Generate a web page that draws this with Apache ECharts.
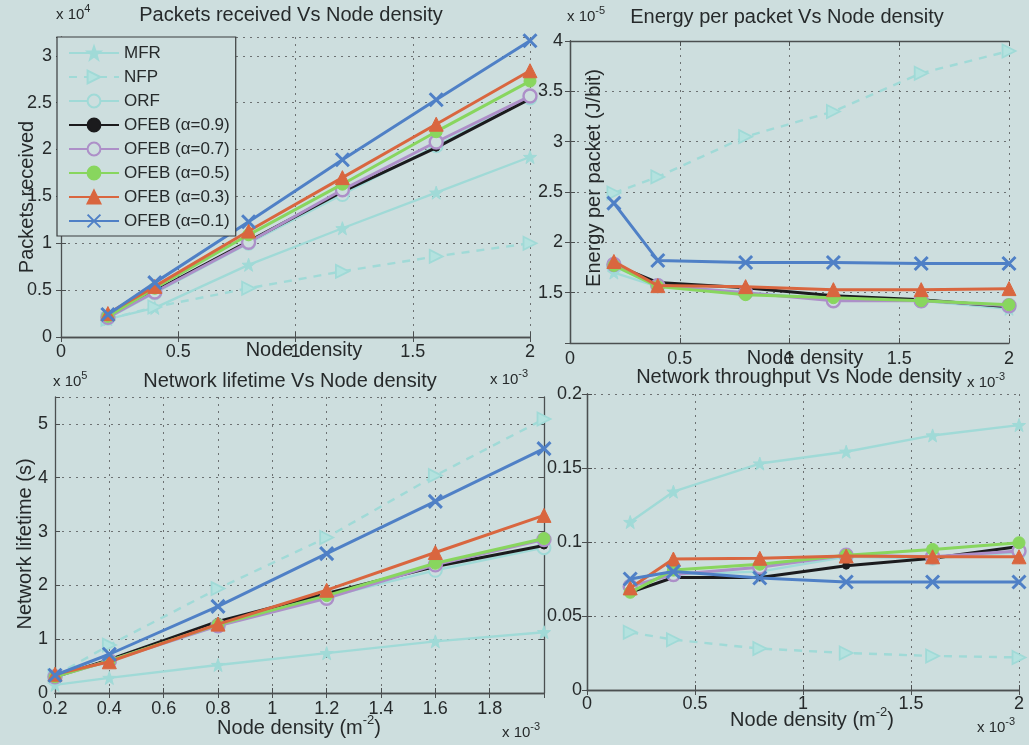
<!DOCTYPE html>
<html>
<head>
<meta charset="utf-8">
<script src="https://cdn.jsdelivr.net/npm/echarts@6/dist/echarts.min.js"></script>
<style>
  html, body { margin: 0; padding: 0; background: #cddede; }
  #chart { width: 1029px; height: 745px; }
</style>
</head>
<body>
<div id="chart"></div>
<script>
// Node density values (x 10^-3 m^-2) shared by all four panels
const densityX = [0.2, 0.4, 0.8, 1.2, 1.6, 2.0];

const seriesNames = ['MFR', 'NFP', 'ORF', 'OFEB (α=0.9)', 'OFEB (α=0.7)', 'OFEB (α=0.5)', 'OFEB (α=0.3)', 'OFEB (α=0.1)'];

// Packets received (x 10^4), one row per scheme in seriesNames order
const packetsReceived = [
  [0.19, 0.31, 0.77, 1.16, 1.54, 1.92],
  [0.19, 0.32, 0.52, 0.70, 0.86, 1.00],
  [0.20, 0.47, 1.00, 1.52, 2.04, 2.55],
  [0.22, 0.49, 1.02, 1.55, 2.02, 2.54],
  [0.21, 0.48, 1.01, 1.57, 2.08, 2.57],
  [0.22, 0.52, 1.09, 1.63, 2.19, 2.73],
  [0.25, 0.54, 1.13, 1.70, 2.27, 2.84],
  [0.24, 0.58, 1.23, 1.89, 2.53, 3.16]
];

// Energy per packet (x 10^-5 J/bit)
const energyPerPacket = [
  [1.70, 1.56, 1.50, 1.44, 1.42, 1.34],
  [2.49, 2.65, 3.05, 3.30, 3.68, 3.90],
  [1.76, 1.57, 1.50, 1.43, 1.42, 1.36],
  [1.78, 1.60, 1.55, 1.47, 1.43, 1.36],
  [1.78, 1.57, 1.50, 1.42, 1.42, 1.37],
  [1.77, 1.56, 1.48, 1.45, 1.42, 1.38],
  [1.81, 1.57, 1.56, 1.53, 1.53, 1.54],
  [2.39, 1.82, 1.80, 1.80, 1.79, 1.79]
];

// Network lifetime (x 10^5 s)
const networkLifetime = [
  [0.15, 0.28, 0.52, 0.74, 0.96, 1.13],
  [0.32, 0.89, 1.94, 2.89, 4.04, 5.09],
  [0.30, 0.60, 1.25, 1.78, 2.28, 2.70],
  [0.30, 0.62, 1.33, 1.85, 2.35, 2.74],
  [0.30, 0.60, 1.25, 1.76, 2.38, 2.85],
  [0.30, 0.60, 1.27, 1.81, 2.41, 2.87],
  [0.35, 0.58, 1.28, 1.91, 2.61, 3.30],
  [0.33, 0.72, 1.61, 2.59, 3.56, 4.54]
];

// Network throughput
const networkThroughput = [
  [0.1135, 0.134, 0.153, 0.161, 0.172, 0.179],
  [0.039, 0.034, 0.028, 0.025, 0.023, 0.022],
  [0.070, 0.078, 0.080, 0.090, 0.089, 0.093],
  [0.066, 0.076, 0.076, 0.084, 0.089, 0.097],
  [0.070, 0.078, 0.083, 0.091, 0.090, 0.094],
  [0.066, 0.081, 0.085, 0.091, 0.095, 0.0995],
  [0.069, 0.0885, 0.089, 0.0905, 0.090, 0.090],
  [0.075, 0.080, 0.0757, 0.073, 0.073, 0.073]
];

// Tick labels for each axis
const ticksX0to2 = ['0', '0.5', '1', '1.5', '2'];
const ticksX02to18 = ['0.2', '0.4', '0.6', '0.8', '1', '1.2', '1.4', '1.6', '1.8'];
const ticksPackets = ['0', '0.5', '1', '1.5', '2', '2.5', '3'];
const ticksEnergy = ['1.5', '2', '2.5', '3', '3.5', '4'];
const ticksLifetime = ['0', '1', '2', '3', '4', '5'];
const ticksThroughput = ['0', '0.05', '0.1', '0.15', '0.2'];

const BG = '#cddede';
const FONT = '"Liberation Sans", Arial, Helvetica, sans-serif';
const INK = '#262a2b';

// Marker shapes
function starPath() {
  const pts = [];
  for (let i = 0; i < 10; i++) {
    const r = i % 2 === 0 ? 10 : 4;
    const a = -Math.PI / 2 + i * Math.PI / 5;
    pts.push((10 + r * Math.cos(a)).toFixed(2) + ',' + (10 + r * Math.sin(a)).toFixed(2));
  }
  return 'path://M' + pts.join('L') + 'Z';
}
const STAR = starPath();
const TRI_RIGHT = 'path://M0,0L10,5L0,10Z';
const XMARK = 'path://M0,0L10,10M10,0L0,10';

const CYAN = '#a0dad7';
const CYAN_FILL = '#b4e2df';
const seriesLook = [
  { color: CYAN, symbol: STAR, size: 13, width: 2.4, dash: 'solid', fill: CYAN, border: 1 },
  { color: CYAN, symbol: TRI_RIGHT, size: 13, width: 2.4, dash: [8, 7], fill: CYAN_FILL, border: 1.8 },
  { color: CYAN, symbol: 'circle', size: 13, width: 2.4, dash: 'solid', fill: BG, border: 2 },
  { color: '#1b1b1d', symbol: 'circle', size: 7, width: 3, dash: 'solid', fill: '#1b1b1d', border: 1 },
  { color: '#ad8fc8', symbol: 'circle', size: 13, width: 3, dash: 'solid', fill: BG, border: 2.4 },
  { color: '#88d65e', symbol: 'circle', size: 12, width: 3, dash: 'solid', fill: '#88d65e', border: 1 },
  { color: '#d9663f', symbol: 'triangle', size: 14, width: 3, dash: 'solid', fill: '#d9663f', border: 1 },
  { color: '#4f80c6', symbol: XMARK, size: 13, width: 3, dash: 'solid', fill: '#4f80c6', border: 3 }
];

function fmt(v) { return String(parseFloat(Number(v).toFixed(6))); }
function labelsFrom(list) { return function (v) { const s = fmt(v); return list.indexOf(s) >= 0 ? s : ''; }; }

const grids = [
  { left: 61, top: 37, width: 469, height: 300 },
  { left: 570, top: 41, width: 439, height: 302 },
  { left: 55, top: 397, width: 489, height: 296 },
  { left: 587, top: 394, width: 432, height: 296 }
];

const panels = [
  { data: packetsReceived, x: { min: 0, max: 2, interval: 0.5, ticks: ticksX0to2, margin: 6 }, y: { min: 0, max: 3.2, interval: 0.5, ticks: ticksPackets, margin: 9 }, rightLine: false },
  { data: energyPerPacket, x: { min: 0, max: 2, interval: 0.5, ticks: ticksX0to2, margin: 7 }, y: { min: 1, max: 4, interval: 0.5, ticks: ticksEnergy, margin: 7 }, rightLine: true },
  { data: networkLifetime, x: { min: 0.2, max: 2, interval: 0.2, ticks: ticksX02to18, margin: 7 }, y: { min: 0, max: 5.5, interval: 1, ticks: ticksLifetime, margin: 7 }, rightLine: true },
  { data: networkThroughput, x: { min: 0, max: 2, interval: 0.5, ticks: ticksX0to2, margin: 5 }, y: { min: 0, max: 0.2, interval: 0.05, ticks: ticksThroughput, margin: 5 }, rightLine: true }
];

const boxLine = { show: true, lineStyle: { color: '#4b4f50', width: 1.3 } };
const tickIn = { show: true, inside: true, length: 5, lineStyle: { color: '#4b4f50', width: 1 } };
const gridDots = { show: true, lineStyle: { color: '#6c7172', width: 1, type: [2, 5] } };
const tickText = { color: INK, fontSize: 18, fontFamily: FONT };

const xAxes = [], yAxes = [], series = [];
panels.forEach((p, gi) => {
  const xMain = xAxes.length;
  xAxes.push({
    type: 'value', gridIndex: gi, position: 'bottom', min: p.x.min, max: p.x.max, interval: p.x.interval,
    axisLine: boxLine, axisTick: tickIn, splitLine: gridDots,
    axisLabel: Object.assign({ margin: p.x.margin, formatter: labelsFrom(p.x.ticks), showMaxLabel: true, showMinLabel: true }, tickText)
  });
  xAxes.push({
    type: 'value', gridIndex: gi, position: 'top', min: p.x.min, max: p.x.max, interval: p.x.interval,
    axisLine: boxLine, axisTick: tickIn, splitLine: { show: false }, axisLabel: { show: false }
  });
  const yMain = yAxes.length;
  yAxes.push({
    type: 'value', gridIndex: gi, position: 'left', min: p.y.min, max: p.y.max, interval: p.y.interval,
    axisLine: boxLine, axisTick: tickIn, splitLine: gridDots,
    axisLabel: Object.assign({ margin: p.y.margin, formatter: labelsFrom(p.y.ticks), showMaxLabel: true, showMinLabel: true }, tickText)
  });
  yAxes.push({
    type: 'value', gridIndex: gi, position: 'right', min: p.y.min, max: p.y.max, interval: p.y.interval,
    axisLine: p.rightLine ? boxLine : { show: false }, axisTick: tickIn, splitLine: { show: false }, axisLabel: { show: false }
  });
  p.data.forEach((vals, si) => {
    const s = seriesLook[si];
    series.push({
      name: seriesNames[si], type: 'line', xAxisIndex: xMain, yAxisIndex: yMain,
      data: densityX.map((x, i) => [x, vals[i]]),
      clip: false, animation: false,
      symbol: s.symbol, symbolSize: s.size, showAllSymbol: true,
      lineStyle: { color: s.color, width: s.width, type: s.dash },
      itemStyle: { color: s.fill, borderColor: s.color, borderWidth: s.border },
      emphasis: { disabled: true },
      z: 2 + si * 0.01
    });
  });
});

const titleText = { color: INK, fontSize: 20, fontWeight: 'normal', fontFamily: FONT };
const titles = [
  { text: 'Packets received Vs Node density', x: 291, y: 17 },
  { text: 'Energy per packet Vs Node density', x: 787, y: 19 },
  { text: 'Network lifetime Vs Node density', x: 290, y: 383 },
  { text: 'Network throughput Vs Node density', x: 799, y: 379 }
];

const supRich = {
  b: { fontSize: 20, fontFamily: FONT, color: INK, lineHeight: 24, verticalAlign: 'bottom' },
  s: { fontSize: 13, fontFamily: FONT, color: INK, lineHeight: 24, verticalAlign: 'top' },
  e: { fontSize: 15, fontFamily: FONT, color: INK, lineHeight: 19, verticalAlign: 'bottom' },
  es: { fontSize: 11, fontFamily: FONT, color: INK, lineHeight: 19, verticalAlign: 'top' }
};

function label(text, x, y, rotate, align) {
  return {
    type: 'text', x: x, y: y, rotation: rotate || 0, silent: true, z: 10,
    style: { text: text, rich: supRich, align: align || 'center', verticalAlign: 'middle', fill: INK, font: '20px ' + FONT }
  };
}

const graphics = [
  // axis titles
  label('{b|Packets received}', 25, 197, Math.PI / 2),
  label('{b|Node density}', 304, 348),
  label('{b|Energy per packet (J/bit)}', 592, 178, Math.PI / 2),
  label('{b|Node density}', 805, 356),
  label('{b|Network lifetime (s)}', 23, 544, Math.PI / 2),
  label('{b|Node density (m}{s|-2}{b|)}', 299, 726),
  label('{b|Node density (m}{s|-2}{b|)}', 812, 718),
  // axis exponents
  label('{e|x 10}{es|4}', 56, 13, 0, 'left'),
  label('{e|x 10}{es|-5}', 567, 15, 0, 'left'),
  label('{e|x 10}{es|-3}', 490, 378, 0, 'left'),
  label('{e|x 10}{es|-3}', 967, 381, 0, 'left'),
  label('{e|x 10}{es|5}', 53, 380, 0, 'left'),
  label('{e|x 10}{es|-3}', 502, 731, 0, 'left'),
  label('{e|x 10}{es|-3}', 977, 726, 0, 'left')
];

const chart = echarts.init(document.getElementById('chart'), null, { renderer: 'canvas' });
chart.setOption({
  backgroundColor: BG,
  animation: false,
  textStyle: { fontFamily: FONT },
  title: titles.map(t => ({
    text: t.text, left: t.x, top: t.y - 12, textAlign: 'center', padding: 0, textStyle: titleText
  })),
  legend: {
    data: seriesNames, orient: 'vertical', left: 57, top: 37,
    padding: [7, 6, 6, 11], itemWidth: 50, itemHeight: 16, itemGap: 6,
    backgroundColor: BG, borderColor: '#3a3d3e', borderWidth: 1.2, borderRadius: 0,
    textStyle: { fontSize: 17, color: INK, fontFamily: FONT, lineHeight: 18 },
    selectedMode: false, z: 6
  },
  grid: grids.map(g => Object.assign({ containLabel: false }, g)),
  xAxis: xAxes,
  yAxis: yAxes,
  series: series,
  graphic: graphics
});
</script>
</body>
</html>
